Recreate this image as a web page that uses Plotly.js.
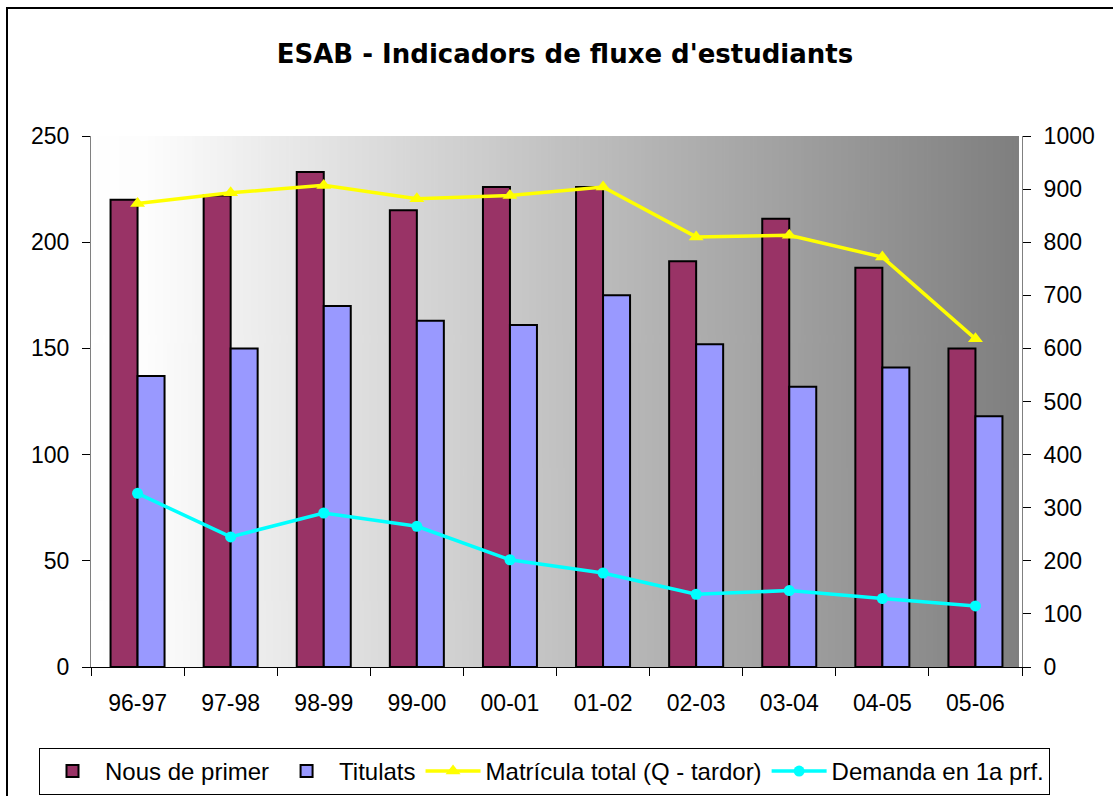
<!DOCTYPE html>
<html><head><meta charset="utf-8">
<script src="https://cdn.plot.ly/plotly-3.0.1.min.js"></script>
<style>html,body{margin:0;padding:0;background:#fff}</style>
</head><body><div id="chart" style="width:1113px;height:796px"></div>
<script>
const categories = ['96-97','97-98','98-99','99-00','00-01','01-02','02-03','03-04','04-05','05-06'];
const nousDePrimer = [220,222,233,215,226,226,191,211,188,150];
const titulats = [137,150,170,163,161,175,152,132,141,118];
const matriculaTotal = [873,893,907,882,888,904,810,813,772,618];
const demanda = [327,245,290,265,202,177,137,144,129,115];
const leftTicks = [0,50,100,150,200,250];
const rightTicks = [0,100,200,300,400,500,600,700,800,900,1000];
const seriesNames = ['Nous de primer','Titulats','Matrícula total (Q - tardor)','Demanda en 1a prf.'];

// gradient background image
const cv = document.createElement('canvas'); cv.width = 512; cv.height = 4;
const cx = cv.getContext('2d');
const grd = cx.createLinearGradient(0,0,512,0);
grd.addColorStop(0,'#ffffff'); grd.addColorStop(0.06,'#fdfdfd'); grd.addColorStop(1,'#7f7f7f');
cx.fillStyle = grd; cx.fillRect(0,0,512,4);
const bgImg = cv.toDataURL('image/png');

const L = 91, R = 1022, T = 136, B = 667;
const px2x = p => (p - L) / (R - L);
const py2y = p => (B - p) / (B - T);

const FONT = 'Liberation Sans, Arial, sans-serif';

const traces = [
  {type:'bar', name:seriesNames[0], x:categories, y:nousDePrimer,
   marker:{color:'#993366', line:{color:'#000', width:2}}},
  {type:'bar', name:seriesNames[1], x:categories, y:titulats,
   marker:{color:'#9999FF', line:{color:'#000', width:2}}},
  {type:'scatter', mode:'lines+markers', name:seriesNames[2], x:categories, y:matriculaTotal, yaxis:'y2',
   line:{color:'#FFFF00', width:3.5}, marker:{symbol:'triangle-up', size:13, color:'#FFFF00'}},
  {type:'scatter', mode:'lines+markers', name:seriesNames[3], x:categories, y:demanda, yaxis:'y2',
   line:{color:'#00FFFF', width:3.5}, marker:{symbol:'circle', size:11, color:'#00FFFF'}}
];

const axisCommon = {
  ticks:'outside', ticklen:8, tickcolor:'#000', tickwidth:1,
  showline:true, linecolor:'#808080', linewidth:1,
  showgrid:false, zeroline:false,
  tickfont:{family:FONT, size:23, color:'#000'}
};

const layout = {
  width:1113, height:796,
  margin:{l:L, r:1113-R, t:T, b:796-B, autoexpand:false},
  paper_bgcolor:'#ffffff', plot_bgcolor:'rgba(0,0,0,0)',
  title:{text:"<b>ESAB - Indicadors de fluxe d'estudiants</b>", x:565/1113, xanchor:'center',
         y:1-54/796, yanchor:'middle', font:{family:'DejaVu Sans, sans-serif', size:26, color:'#000'}},
  barmode:'group', bargap:0.42, bargroupgap:0,
  showlegend:true,
  legend:{orientation:'h', x:px2x(39), y:py2y(748), xanchor:'left', yanchor:'top',
          bordercolor:'#000', borderwidth:1, bgcolor:'#fff', itemwidth:55,
          font:{family:FONT, size:24, color:'#000'}, traceorder:'normal'},
  xaxis:Object.assign({}, axisCommon, {type:'category', tickson:'boundaries', linecolor:'#000',
          range:[-0.5, 9.5], ticklabelstandoff:15}),
  yaxis:Object.assign({}, axisCommon, {range:[0,250], tickvals:leftTicks, ticklabelstandoff:8}),
  yaxis2:Object.assign({}, axisCommon, {range:[0,1000], tickvals:rightTicks, overlaying:'y', side:'right', ticklabelstandoff:8}),
  images:[{source:bgImg, xref:'paper', yref:'paper', x:0, y:1, sizex:(1019-L)/(R-L), sizey:1,
           xanchor:'left', yanchor:'top', sizing:'stretch', layer:'below'}],
  shapes:[{type:'rect', xref:'paper', yref:'paper', x0:px2x(7), x1:px2x(1130), y0:py2y(8), y1:py2y(820),
           line:{color:'#000', width:2}, fillcolor:'rgba(0,0,0,0)'}]
};

Plotly.newPlot('chart', traces, layout, {displayModeBar:false, staticPlot:true});
</script></body></html>
